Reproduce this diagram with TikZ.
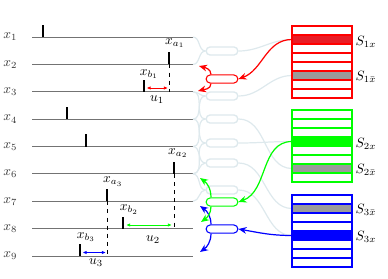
\documentclass[tikz,border=0pt]{standalone}
\usepackage{amsmath, amssymb}
\usetikzlibrary{arrows.meta}
\definecolor{fadeline}{RGB}{222,233,237}
\definecolor{cellred}{RGB}{232,30,38}
\definecolor{cellgray}{RGB}{155,155,155}
\tikzset{wire/.style={black!55, line width=0.7pt}}
\tikzset{tick/.style={line width=2.2pt}}
\tikzset{oval/.style={draw, rounded corners=3pt, minimum width=23.5pt, minimum height=6pt, inner sep=0pt, fill=white, line width=0.8pt}}
\tikzset{fadeoval/.style={oval, draw=fadeline, line width=1pt}}
\tikzset{fade/.style={fadeline, line width=0.9pt}}
\tikzset{link/.style={-{Stealth[length=6pt,width=5pt]}, line width=0.9pt}}
\tikzset{gap/.style={{Latex[length=3pt,width=2.5pt]}-{Latex[length=3pt,width=2.5pt]}, line width=0.7pt}}
\tikzset{cellbox/.style={line width=0.8pt}}

\begin{document}
\begin{tikzpicture}[x=0.74pt, y=-0.74pt]
	\useasboundingbox (0,0) rectangle (388,279);
	%
	\node[anchor=east, black!80] (l1) at (22,37) {$x_1$};
	\node[anchor=east, black!80] (l2) at (22,64.4) {$x_2$};
	\node[anchor=east, black!80] (l3) at (22,91.8) {$x_3$};
	\node[anchor=east, black!80] (l4) at (22,119.1) {$x_4$};
	\node[anchor=east, black!80] (l5) at (22,146.5) {$x_5$};
	\node[anchor=east, black!80] (l6) at (22,173.9) {$x_6$};
	\node[anchor=east, black!80] (l7) at (22,201.3) {$x_7$};
	\node[anchor=east, black!80] (l8) at (22,228.6) {$x_8$};
	\node[anchor=east, black!80] (l9) at (22,256) {$x_9$};
	%
	\coordinate (w1) at (32,37);      \coordinate (e1) at (193,37);
	\coordinate (w2) at (32,64.4);    \coordinate (e2) at (193,64.4);
	\coordinate (w3) at (32,91.8);    \coordinate (e3) at (193,91.8);
	\coordinate (w4) at (32,119.1);   \coordinate (e4) at (193,119.1);
	\coordinate (w5) at (32,146.5);   \coordinate (e5) at (193,146.5);
	\coordinate (w6) at (32,173.9);   \coordinate (e6) at (193,173.9);
	\coordinate (w7) at (32,201.3);   \coordinate (e7) at (193,201.3);
	\coordinate (w8) at (32,228.6);   \coordinate (e8) at (193,228.6);
	\coordinate (w9) at (32,256);     \coordinate (e9) at (193,256);
	%
	\draw[wire] (w1) -- (e1);
	\draw[wire] (w2) -- (e2);
	\draw[wire] (w3) -- (e3);
	\draw[wire] (w4) -- (e4);
	\draw[wire] (w5) -- (e5);
	\draw[wire] (w6) -- (e6);
	\draw[wire] (w7) -- (e7);
	\draw[wire] (w8) -- (e8);
	\draw[wire] (w9) -- (e9);
	%
	\draw[tick] (43,37) -- (43,25);
	\draw[tick] (169,64.4) -- (169,52.4);
	\draw[tick] (144,91.8) -- (144,79.8);
	\draw[tick] (67,119.1) -- (67,106.6);
	\draw[tick] (86,146.5) -- (86,133.5);
	\draw[tick] (174,173.9) -- (174,161.9);
	\draw[tick] (107,201.3) -- (107,188.8);
	\draw[tick] (123,228.6) -- (123,216.6);
	\draw[tick] (80,256) -- (80,243.5);
	%
	\draw[dashed, line width=0.6pt] (169,64.4) -- (169,91.8);
	\draw[dashed, line width=0.6pt] (174,173.9) -- (174,228.6);
	\draw[dashed, line width=0.6pt] (107,201.3) -- (107,256);
	%
	\node (xa1) at (175,43) {$x_{a_1}$};
	\node (xb1) at (149,74) {$x_{b_1}$};
	\node (xa2) at (178,153) {$x_{a_2}$};
	\node (xa3) at (113,181.5) {$x_{a_3}$};
	\node (xb2) at (129,209.5) {$x_{b_2}$};
	\node (xb3) at (86,237) {$x_{b_3}$};
	%
	\coordinate (u1a) at (146.5,88);  \coordinate (u1b) at (168,88);
	\coordinate (u2a) at (126,225);   \coordinate (u2b) at (172,225);
	\coordinate (u3a) at (82.5,252.5);\coordinate (u3b) at (106,252.5);
	\draw[gap, red] (u1a) -- (u1b);
	\draw[gap, green] (u2a) -- (u2b);
	\draw[gap, blue] (u3a) -- (u3b);
	\node (u1) at (157,99.5) {$u_1$};
	\node (u2) at (153,240) {$u_2$};
	\node (u3) at (96,263) {$u_3$};
	%
	\coordinate (s1x) at (292,39.5);
	\coordinate (s1n) at (292,75.5);
	\coordinate (s2x) at (292,141.5);
	\coordinate (s2n) at (292,168.5);
	\coordinate (s3n) at (292,208.5);
	\coordinate (s3x) at (292,235.5);
	%
	\node[fadeoval] (f1) at (222,51) {};
	\node[fadeoval] (f2) at (222,96) {};
	\node[fadeoval] (f3) at (222,119) {};
	\node[fadeoval] (f4) at (222,143) {};
	\node[fadeoval] (f5) at (222,163) {};
	\node[fadeoval] (f6) at (222,190) {};
	%
	\draw[fade] (f1.west) to[out=180, in=0] (e1);
	\draw[fade] (f1.west) to[out=180, in=0] (e2);
	\draw[fade] (f2.west) to[out=180, in=0] (e3);
	\draw[fade] (f2.west) to[out=180, in=0] (e4);
	\draw[fade] (f3.west) to[out=180, in=0] (e3);
	\draw[fade] (f3.west) to[out=180, in=0] (e5);
	\draw[fade] (f4.west) to[out=180, in=0] (e4);
	\draw[fade] (f4.west) to[out=180, in=0] (e6);
	\draw[fade] (f5.west) to[out=180, in=0] (e5);
	\draw[fade] (f5.west) to[out=180, in=0] (e6);
	\draw[fade] (f6.west) to[out=180, in=0] (e6);
	\draw[fade] (f6.west) to[out=180, in=0] (e7);
	%
	\draw[fade] (f1.east) to[out=0, in=180] (s1x);
	\draw[fade] (f2.east) to[out=0, in=180] (s1n);
	\draw[fade] (f3.east) to[out=0, in=180] (s2n);
	\draw[fade] (f4.east) to[out=0, in=180] (s2x);
	\draw[fade] (f5.east) to[out=0, in=180] (s3n);
	\draw[fade] (f6.east) to[out=0, in=180] (s3x);
	%
	\node[oval, draw=red] (r) at (222,79) {};
	\node[oval, draw=green] (g) at (222,202) {};
	\node[oval, draw=blue] (b) at (222,229) {};
	%
	\coordinate (t2) at (199,66);
	\coordinate (t3) at (198,91);
	\coordinate (t6) at (200,178);
	\coordinate (t8) at (201,222);
	\coordinate (t7) at (200,206);
	\coordinate (t9) at (200,252);
	%
	\draw[link, red] ([xshift=4pt]r.north west) to[out=90, in=-15] (t2);
	\draw[link, red] ([xshift=4pt]r.south west) to[out=-90, in=15] (t3);
	\draw[link, green] ([xshift=4pt]g.north west) to[out=90, in=-35] (t6);
	\draw[link, blue] ([xshift=4pt]b.north west) to[out=90, in=-35] (t7);
	\draw[link, green] ([xshift=4pt]g.south west) to[out=-90, in=35] (t8);
	\draw[link, blue] ([xshift=4pt]b.south west) to[out=-90, in=35] (t9);
	%
	\draw[link, red] (s1x) to[out=180, in=20] (r.east);
	\draw[link, green] (s2x) to[out=180, in=20] (g.east);
	\draw[link, blue] (s3x) to[out=180, in=-10] (b.east);
	%
	\filldraw[cellbox, draw=red, fill=cellred] (292,35) rectangle (352,44);
	\filldraw[cellbox, draw=red, fill=cellgray] (292,71) rectangle (352,80);
	\draw[cellbox, red] (292,26) rectangle (352,98);
	\draw[cellbox, red] (292,35) -- (352,35) (292,44) -- (352,44) (292,53) -- (352,53) (292,62) -- (352,62)
		(292,71) -- (352,71) (292,80) -- (352,80) (292,89) -- (352,89);
	%
	\filldraw[cellbox, draw=green, fill=green] (292,137) rectangle (352,146);
	\filldraw[cellbox, draw=green, fill=cellgray] (292,164) rectangle (352,173);
	\draw[cellbox, green] (292,110) rectangle (352,182);
	\draw[cellbox, green] (292,119) -- (352,119) (292,128) -- (352,128) (292,137) -- (352,137) (292,146) -- (352,146)
		(292,155) -- (352,155) (292,164) -- (352,164) (292,173) -- (352,173);
	%
	\filldraw[cellbox, draw=blue, fill=cellgray] (292,204) rectangle (352,213);
	\filldraw[cellbox, draw=blue, fill=blue] (292,231) rectangle (352,240);
	\draw[cellbox, blue] (292,195) rectangle (352,267);
	\draw[cellbox, blue] (292,204) -- (352,204) (292,213) -- (352,213) (292,222) -- (352,222) (292,231) -- (352,231)
		(292,240) -- (352,240) (292,249) -- (352,249) (292,258) -- (352,258);
	%
	\node[anchor=west, inner sep=1pt] (S1x) at (354,41.5) {$S_{1x}$};
	\node[anchor=west, inner sep=1pt] (S1n) at (354,76.5) {$S_{1\bar{x}}$};
	\node[anchor=west, inner sep=1pt] (S2x) at (354,143.5) {$S_{2x}$};
	\node[anchor=west, inner sep=1pt] (S2n) at (354,170) {$S_{2\bar{x}}$};
	\node[anchor=west, inner sep=1pt] (S3n) at (354,209.5) {$S_{3\bar{x}}$};
	\node[anchor=west, inner sep=1pt] (S3x) at (354,236.5) {$S_{3x}$};
\end{tikzpicture}
\end{document}
